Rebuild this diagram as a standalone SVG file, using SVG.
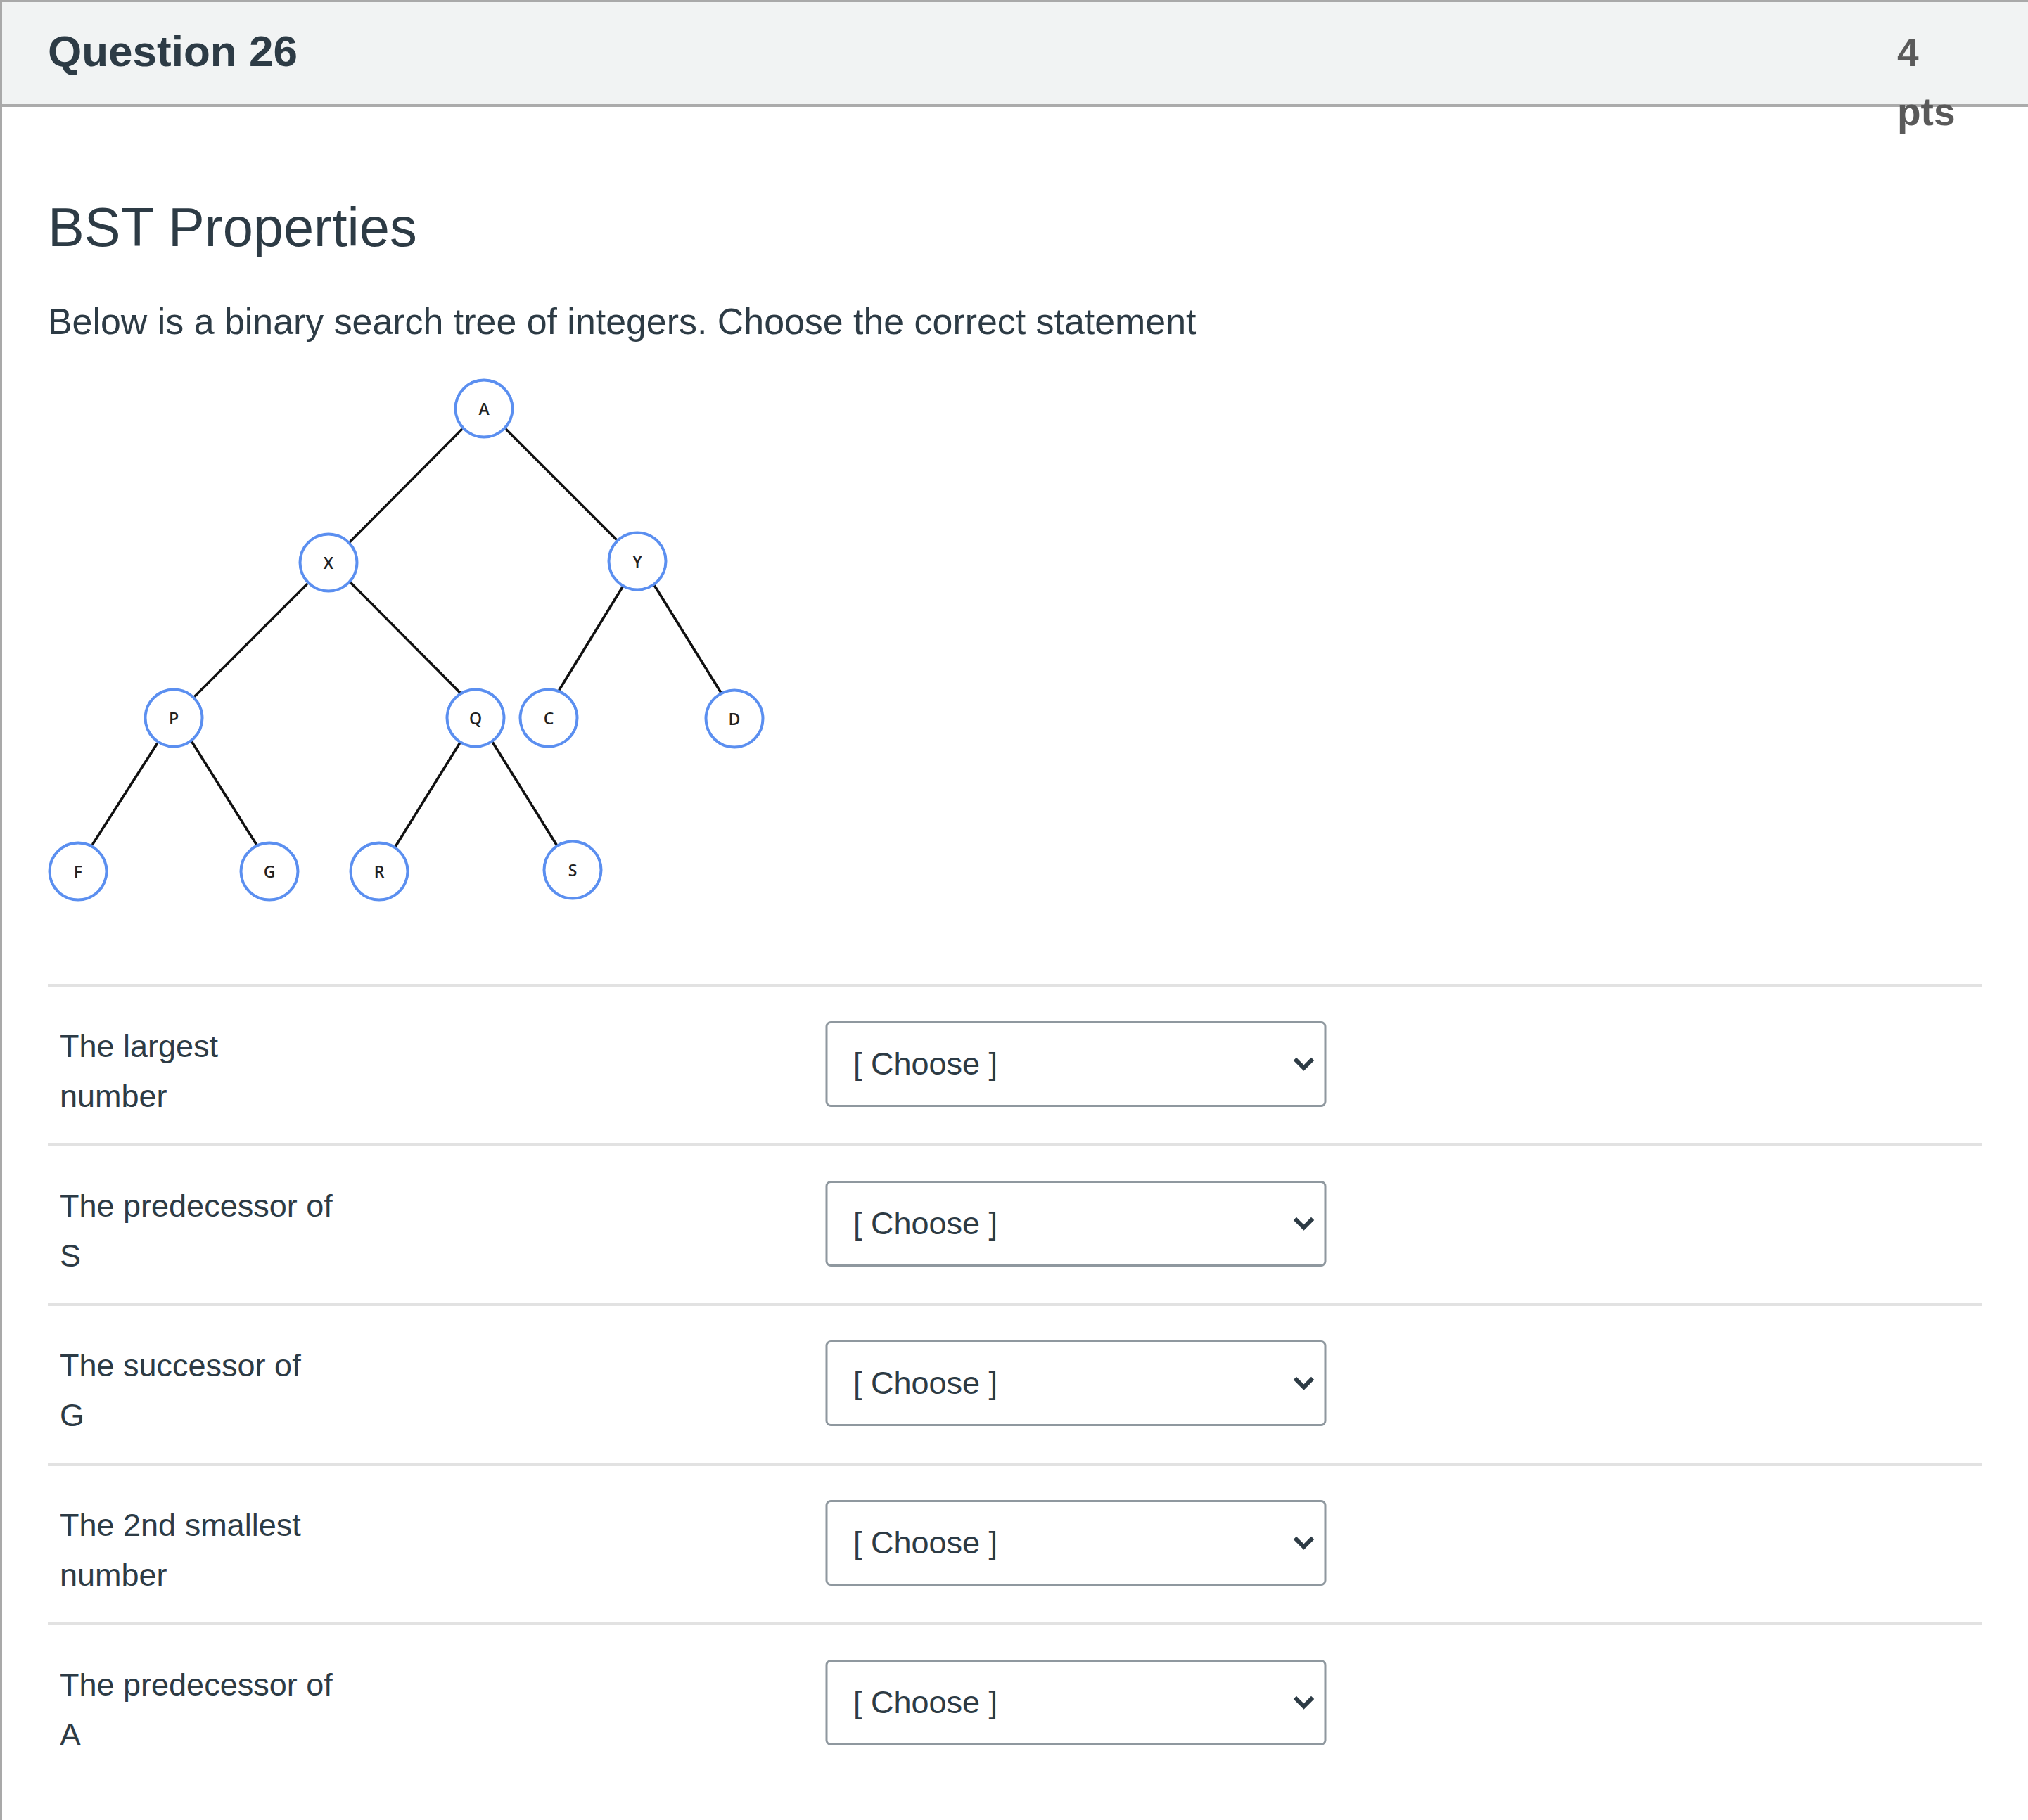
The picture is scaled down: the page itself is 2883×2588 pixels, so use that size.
<svg xmlns="http://www.w3.org/2000/svg" width="2883" height="2588" viewBox="0 0 2883 2588">
<style>
.hdr{font-family:"Liberation Sans",Arial,sans-serif;font-weight:bold;fill:#2d3b45}
.pts{font-family:"Liberation Sans",Arial,sans-serif;font-weight:bold;fill:#5a5a5a;font-size:55px}
.body{font-family:"Liberation Sans",Arial,sans-serif;fill:#2d3b45}
.lbl{font-family:"Liberation Sans",Arial,sans-serif;fill:#2d3b45;font-size:45px}
.node circle{fill:#ffffff;stroke:#5b8ff0;stroke-width:4}
.node text{font-family:"Open Sans","Liberation Sans",sans-serif;font-weight:600;font-size:23px;fill:#222;text-anchor:middle}
.edges line{stroke:#111;stroke-width:3.6;stroke-linecap:round}
.sep{fill:#e2e2e2}
.sel rect{fill:#fff;stroke:#8f989f;stroke-width:3}
.sel text{font-family:"Liberation Sans",Arial,sans-serif;fill:#2d3b45;font-size:45px}
.sel path{fill:none;stroke:#2d3b45;stroke-width:6;stroke-linecap:square;stroke-linejoin:miter}
</style>
<rect x="0" y="0" width="2883" height="2588" fill="#ffffff"/>
<g id="header">
<rect x="0" y="0" width="2883" height="150" fill="#f1f3f3"/>
<rect x="0" y="0" width="2883" height="3" fill="#a9a9a9"/>
<rect x="0" y="148" width="2883" height="4" fill="#ababab"/>
<text class="hdr" x="68" y="94" font-size="62">Question 26</text>
<text class="pts" x="2697" y="94">4</text>
<text class="pts" x="2697" y="178">pts</text>
</g>
<rect x="0" y="0" width="3" height="2588" fill="#a9a9a9"/>
<text class="body" x="68" y="350" font-size="77.6">BST Properties</text>
<text class="body" x="68" y="475" font-size="51.9">Below is a binary search tree of integers. Choose the correct statement</text>
<g id="connectors" class="edges">
<line x1="656" y1="611" x2="497" y2="771"/>
<line x1="720" y1="611" x2="876" y2="767"/>
<line x1="436" y1="831" x2="277" y2="990"/>
<line x1="498" y1="828" x2="654" y2="985"/>
<line x1="886" y1="833" x2="795" y2="981"/>
<line x1="930" y1="832" x2="1025" y2="985"/>
<line x1="223" y1="1058" x2="132" y2="1200"/>
<line x1="271" y1="1052" x2="364" y2="1200"/>
<line x1="654" y1="1056" x2="562" y2="1204"/>
<line x1="700" y1="1055" x2="791" y2="1201"/>
</g>
<g id="node-A" class="node"><circle cx="688" cy="581" r="40.5"/><text x="688" y="590">A</text></g>
<g id="node-X" class="node"><circle cx="467" cy="800" r="40.5"/><text x="467" y="809">X</text></g>
<g id="node-Y" class="node"><circle cx="906" cy="798" r="40.5"/><text x="906" y="807">Y</text></g>
<g id="node-P" class="node"><circle cx="247" cy="1021" r="40.5"/><text x="247" y="1030">P</text></g>
<g id="node-Q" class="node"><circle cx="676" cy="1021" r="40.5"/><text x="676" y="1030">Q</text></g>
<g id="node-C" class="node"><circle cx="780" cy="1021" r="40.5"/><text x="780" y="1030">C</text></g>
<g id="node-D" class="node"><circle cx="1044" cy="1022" r="40.5"/><text x="1044" y="1031">D</text></g>
<g id="node-F" class="node"><circle cx="111" cy="1239" r="40.5"/><text x="111" y="1248">F</text></g>
<g id="node-G" class="node"><circle cx="383" cy="1239" r="40.5"/><text x="383" y="1248">G</text></g>
<g id="node-R" class="node"><circle cx="539" cy="1239" r="40.5"/><text x="539" y="1248">R</text></g>
<g id="node-S" class="node"><circle cx="814" cy="1237" r="40.5"/><text x="814" y="1246">S</text></g>
<g id="rows">
<rect class="sep" x="68" y="1399" width="2750" height="4"/>
<rect class="sep" x="68" y="1626" width="2750" height="4"/>
<rect class="sep" x="68" y="1853" width="2750" height="4"/>
<rect class="sep" x="68" y="2080" width="2750" height="4"/>
<rect class="sep" x="68" y="2307" width="2750" height="4"/>
<g id="row1">
<text class="lbl" x="85" y="1503">The largest</text>
<text class="lbl" x="85" y="1574">number</text>
<g class="sel"><rect x="1175" y="1453.5" width="709" height="119" rx="6"/><text x="1213" y="1528">[ Choose ]</text><path d="M1843,1508 L1853.5,1518.5 L1864,1508"/></g>
</g>
<g id="row2">
<text class="lbl" x="85" y="1730">The predecessor of</text>
<text class="lbl" x="85" y="1801">S</text>
<g class="sel"><rect x="1175" y="1680.5" width="709" height="119" rx="6"/><text x="1213" y="1755">[ Choose ]</text><path d="M1843,1735 L1853.5,1745.5 L1864,1735"/></g>
</g>
<g id="row3">
<text class="lbl" x="85" y="1957">The successor of</text>
<text class="lbl" x="85" y="2028">G</text>
<g class="sel"><rect x="1175" y="1907.5" width="709" height="119" rx="6"/><text x="1213" y="1982">[ Choose ]</text><path d="M1843,1962 L1853.5,1972.5 L1864,1962"/></g>
</g>
<g id="row4">
<text class="lbl" x="85" y="2184">The 2nd smallest</text>
<text class="lbl" x="85" y="2255">number</text>
<g class="sel"><rect x="1175" y="2134.5" width="709" height="119" rx="6"/><text x="1213" y="2209">[ Choose ]</text><path d="M1843,2189 L1853.5,2199.5 L1864,2189"/></g>
</g>
<g id="row5">
<text class="lbl" x="85" y="2411">The predecessor of</text>
<text class="lbl" x="85" y="2482">A</text>
<g class="sel"><rect x="1175" y="2361.5" width="709" height="119" rx="6"/><text x="1213" y="2436">[ Choose ]</text><path d="M1843,2416 L1853.5,2426.5 L1864,2416"/></g>
</g>
</g>
</svg>
